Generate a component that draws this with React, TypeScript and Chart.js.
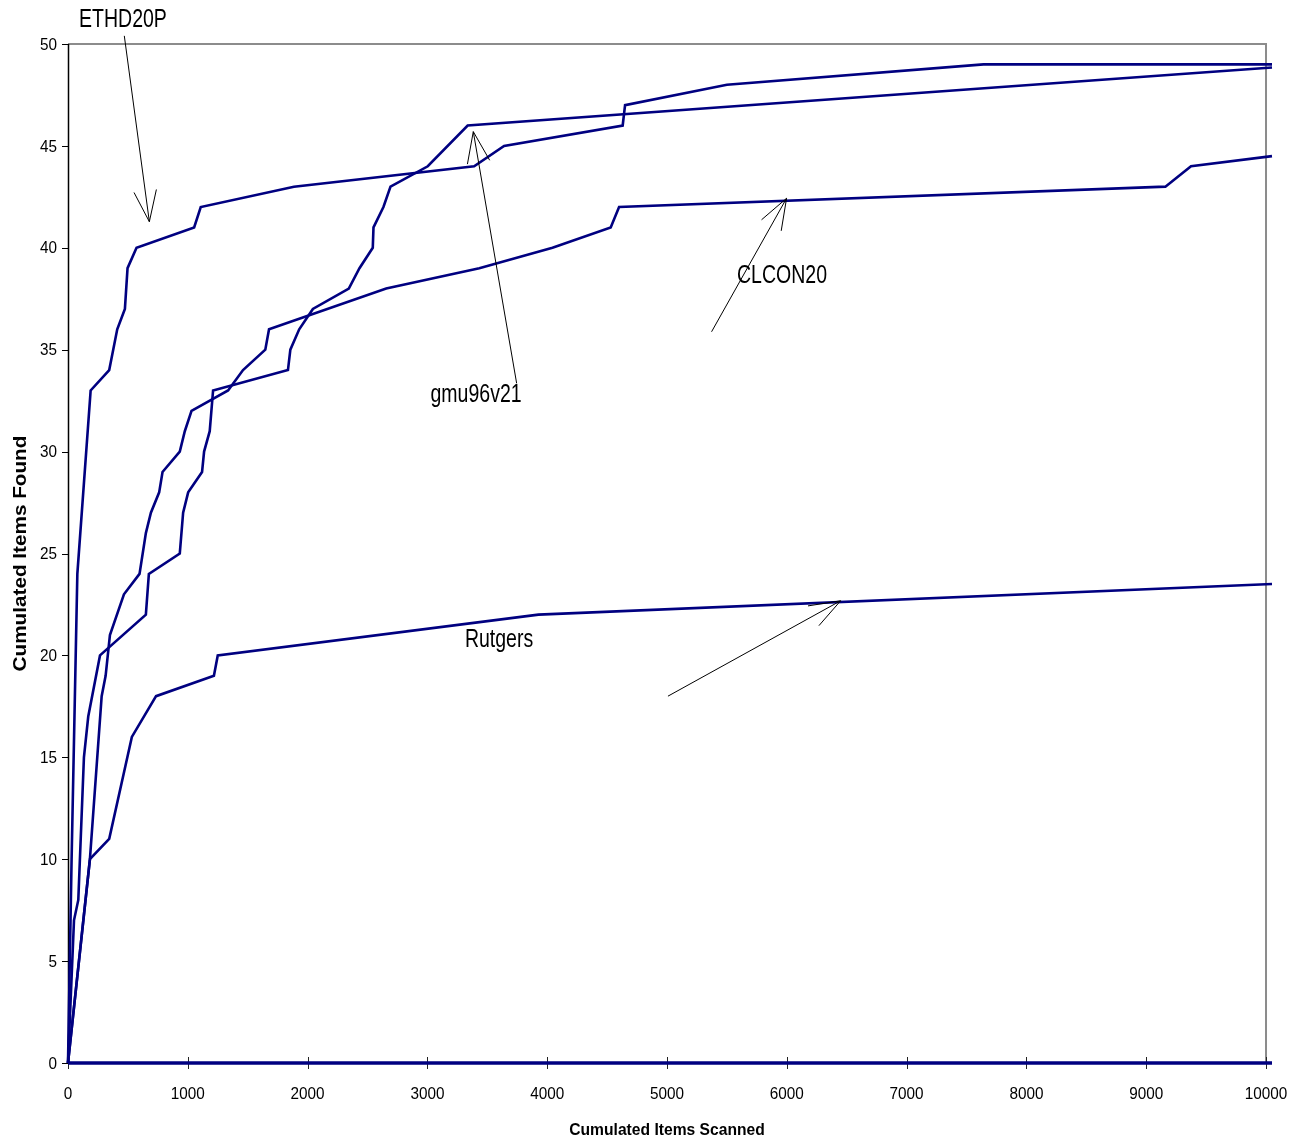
import React, { useEffect, useRef } from "react";
import { Chart, registerables } from "chart.js";

Chart.register(...registerables);

// ---- data ----
const ethdX = [0, 30, 78, 189, 344, 411, 475, 497, 572, 1053, 1108, 1886, 3390, 3640, 4630, 4650, 5500, 7642, 10050];
const ethdY = [0, 10, 24, 33, 34, 36, 37, 39, 40, 41, 42, 43, 44, 45, 46, 47, 48, 49, 49];

const gmuX = [0, 50, 86, 133, 169, 267, 650, 675, 933, 961, 1003, 1119, 1136, 1183, 1211, 1836, 1856, 1930, 2044, 2344, 2433, 2544, 2550, 2633, 2692, 3003, 3336, 10050];
const gmuY = [0, 7, 8, 15, 17, 20, 22, 24, 25, 27, 28, 29, 30, 31, 33, 34, 35, 36, 37, 38, 39, 40, 41, 42, 43, 44, 46, 48.85];

const clconX = [0, 183, 281, 314, 350, 467, 597, 650, 692, 761, 789, 933, 975, 1031, 1336, 1461, 1647, 1678, 2656, 3433, 4044, 4530, 4600, 9160, 9374, 10050];
const clconY = [0, 10, 18, 19, 21, 23, 24, 26, 27, 28, 29, 30, 31, 32, 33, 34, 35, 36, 38, 39, 40, 41, 42, 43, 44, 44.5];

const rutgersX = [0, 183, 344, 533, 735, 1218, 1250, 3927, 10050];
const rutgersY = [0, 10, 11, 16, 18, 19, 20, 22, 23.5];

const zeroX = [0, 10050];
const zeroY = [0, 0];

const seriesNames = ["ETHD20P", "gmu96v21", "CLCON20", "Rutgers"];
const xTicks = [0, 1000, 2000, 3000, 4000, 5000, 6000, 7000, 8000, 9000, 10000];
const yTicks = [0, 5, 10, 15, 20, 25, 30, 35, 40, 45, 50];
const xTitle = "Cumulated Items Scanned";
const yTitle = "Cumulated Items Found";

const FONT = '"Liberation Sans", Arial, Helvetica, sans-serif';
const NAVY = "#000080";

// annotation placements (data coordinates)
const annotations = [
  { text: seriesNames[0], label: [459, 51.18], tail: [470, 50.4], tip: [679, 41.28] },
  { text: seriesNames[1], label: [3406, 32.78], tail: [3745, 33.35], tip: [3383, 45.7] },
  { text: seriesNames[2], label: [5960, 38.62], tail: [5372, 35.88], tip: [5998, 42.43] },
  { text: seriesNames[3], label: [3598, 20.76], tail: [5008, 18.0], tip: [6449, 22.68] },
];

const toPoints = (xs: number[], ys: number[]) => xs.map((x, i) => ({ x, y: ys[i] }));

function drawText(
  ctx: CanvasRenderingContext2D,
  text: string,
  x: number,
  y: number,
  size: number,
  bold: boolean,
  sx: number,
  align: CanvasTextAlign
) {
  ctx.save();
  ctx.translate(x, y);
  ctx.scale(sx, 1);
  ctx.font = `${bold ? "bold " : ""}${size}px ${FONT}`;
  ctx.textAlign = align;
  ctx.textBaseline = "middle";
  ctx.fillStyle = "#000";
  ctx.fillText(text, 0, 0);
  ctx.restore();
}

function drawArrow(ctx: CanvasRenderingContext2D, x1: number, y1: number, x2: number, y2: number) {
  const headLen = 33;
  const headAng = (20 * Math.PI) / 180;
  const a = Math.atan2(y1 - y2, x1 - x2);
  ctx.save();
  ctx.strokeStyle = "#000";
  ctx.lineWidth = 1;
  ctx.beginPath();
  ctx.moveTo(x1, y1);
  ctx.lineTo(x2, y2);
  ctx.moveTo(x2 + headLen * Math.cos(a + headAng), y2 + headLen * Math.sin(a + headAng));
  ctx.lineTo(x2, y2);
  ctx.lineTo(x2 + headLen * Math.cos(a - headAng), y2 + headLen * Math.sin(a - headAng));
  ctx.stroke();
  ctx.restore();
}

const framePlugin = {
  id: "excelFrame",
  beforeDatasetsDraw(chart: any) {
    const ctx: CanvasRenderingContext2D = chart.ctx;
    const xs = chart.scales.x;
    const ys = chart.scales.y;
    const left = xs.getPixelForValue(0);
    const right = xs.getPixelForValue(10000);
    const top = ys.getPixelForValue(50);
    const bottom = ys.getPixelForValue(0);
    ctx.save();
    // top & right border (grey)
    ctx.strokeStyle = "#8c8c8c";
    ctx.lineWidth = 2;
    ctx.beginPath();
    ctx.moveTo(left, top);
    ctx.lineTo(right, top);
    ctx.lineTo(right, bottom);
    ctx.stroke();
    // left axis
    ctx.strokeStyle = "#000";
    ctx.lineWidth = 1.5;
    ctx.beginPath();
    ctx.moveTo(left + 0.5, top);
    ctx.lineTo(left + 0.5, bottom);
    ctx.stroke();
    // y ticks
    ctx.lineWidth = 1;
    ctx.beginPath();
    for (const v of yTicks) {
      const py = Math.round(ys.getPixelForValue(v)) + 0.5;
      ctx.moveTo(left - 6, py);
      ctx.lineTo(left, py);
    }
    ctx.stroke();
    // x ticks (cross)
    ctx.strokeStyle = "#222";
    ctx.beginPath();
    for (const v of xTicks) {
      const px = Math.round(xs.getPixelForValue(v)) + 0.5;
      ctx.moveTo(px, bottom - 6);
      ctx.lineTo(px, bottom + 6);
    }
    ctx.stroke();
    ctx.restore();

    // tick labels
    for (const v of yTicks) {
      drawText(ctx, String(v), left - 11, ys.getPixelForValue(v) + 1, 17, false, 0.9, "right");
    }
    for (const v of xTicks) {
      drawText(ctx, String(v), xs.getPixelForValue(v), bottom + 31, 17, false, 0.9, "center");
    }
    // axis titles
    drawText(ctx, xTitle, (left + right) / 2, bottom + 67, 17, true, 0.92, "center");
    ctx.save();
    ctx.translate(21, (top + bottom) / 2);
    ctx.rotate(-Math.PI / 2);
    ctx.scale(1.15, 1);
    ctx.font = `bold 18px ${FONT}`;
    ctx.textAlign = "center";
    ctx.textBaseline = "middle";
    ctx.fillStyle = "#000";
    ctx.fillText(yTitle, 0, 0);
    ctx.restore();
  },
  afterDatasetsDraw(chart: any) {
    const ctx: CanvasRenderingContext2D = chart.ctx;
    const xs = chart.scales.x;
    const ys = chart.scales.y;
    for (const a of annotations) {
      drawArrow(
        ctx,
        xs.getPixelForValue(a.tail[0]),
        ys.getPixelForValue(a.tail[1]),
        xs.getPixelForValue(a.tip[0]),
        ys.getPixelForValue(a.tip[1])
      );
      drawText(ctx, a.text, xs.getPixelForValue(a.label[0]), ys.getPixelForValue(a.label[1]), 25, false, 0.78, "center");
    }
  },
};

export default function App() {
  const ref = useRef<HTMLCanvasElement | null>(null);
  useEffect(() => {
    if (!ref.current) return;
    const mk = (label: string, xs: number[], ys: number[], w: number) => ({
      label,
      data: toPoints(xs, ys),
      showLine: true,
      borderColor: NAVY,
      backgroundColor: NAVY,
      borderWidth: w,
      pointRadius: 0,
      pointHoverRadius: 0,
      tension: 0,
      fill: false,
      clip: false as any,
    });
    const chart = new Chart(ref.current, {
      type: "scatter",
      data: {
        datasets: [
          mk("zero", zeroX, zeroY, 3.5),
          mk(seriesNames[0], ethdX, ethdY, 2.6),
          mk(seriesNames[1], gmuX, gmuY, 2.6),
          mk(seriesNames[2], clconX, clconY, 2.6),
          mk(seriesNames[3], rutgersX, rutgersY, 2.6),
        ],
      },
      options: {
        responsive: false,
        animation: false,
        devicePixelRatio: 1,
        layout: { padding: { left: 68, right: 30, top: 44, bottom: 80 } },
        plugins: { legend: { display: false }, tooltip: { enabled: false } },
        events: [],
        scales: {
          x: { type: "linear", min: 0, max: 10050, display: false },
          y: { type: "linear", min: 0, max: 50, display: false },
        },
      },
      plugins: [framePlugin],
    });
    return () => chart.destroy();
  }, []);
  return (
    <div style={{ position: "absolute", left: 0, top: 0, width: 1302, height: 1143, background: "#fff" }}>
      <canvas ref={ref} width={1302} height={1143} style={{ display: "block", width: 1302, height: 1143 }} />
    </div>
  );
}
